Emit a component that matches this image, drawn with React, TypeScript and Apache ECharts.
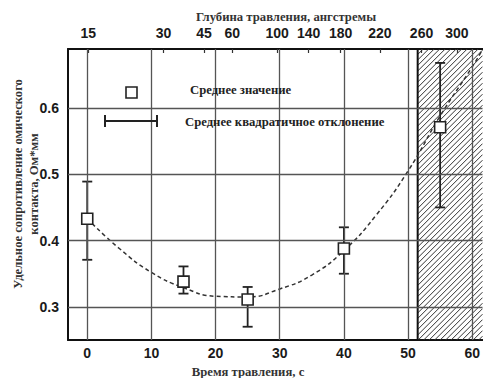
import React, { useEffect, useRef } from 'react';
import * as echarts from 'echarts';

const timeTicks = [0, 10, 20, 30, 40, 50, 60];
const valueTicks = [0.3, 0.4, 0.5, 0.6];
const depthLabels = ['15', '30', '45', '60', '100', '140', '180', '220', '260', '300'];
const depthPositions = [0.15, 11.9, 18.2, 22.6, 29.6, 34.5, 39.5, 45.6, 52.1, 57.6];

const etchTime = [0, 15, 25, 40, 55];
const meanResistance = [0.433, 0.338, 0.311, 0.388, 0.571];
const errLow = [0.371, 0.32, 0.27, 0.35, 0.45];
const errHigh = [0.489, 0.361, 0.33, 0.42, 0.668];

const fitTime = [0, 5, 10, 15, 20, 25, 30, 35, 40, 45, 50, 55, 60, 61.6];
const fitValue = [0.433, 0.388, 0.352, 0.329, 0.316, 0.315, 0.327, 0.348, 0.385, 0.438, 0.505, 0.588, 0.662, 0.688];

const hatchStart = 51.5;
const X_MIN = -3;
const X_MAX = 61.6;
const Y_MIN = 0.25;
const Y_MAX = 0.689;

const SERIF = "'Liberation Serif', 'DejaVu Serif', serif";
const SANS = "'Liberation Sans', Arial, sans-serif";

export default function App() {
  const ref = useRef<HTMLDivElement>(null);
  useEffect(() => {
    if (!ref.current) return;
    const chart = echarts.init(ref.current, null, { renderer: 'svg' });
    const nearestDepth = (v: number) => {
      let best = 0;
      for (let i = 1; i < depthPositions.length; i++) {
        if (Math.abs(depthPositions[i] - v) < Math.abs(depthPositions[best] - v)) best = i;
      }
      return depthLabels[best];
    };
    const labelStyle = { color: '#1a1a1a', fontFamily: SANS, fontWeight: 'bold' as const, fontSize: 14 };
    const option: any = {
      animation: false,
      backgroundColor: '#fff',
      grid: { left: 68, top: 49, right: 0, bottom: 38, containLabel: false },
      xAxis: [
        {
          type: 'value', position: 'bottom', min: X_MIN, max: X_MAX,
          axisLine: { show: true, onZero: false, lineStyle: { color: '#111', width: 2 } },
          axisTick: { show: false },
          splitLine: { show: false },
          axisLabel: { ...labelStyle, customValues: timeTicks, margin: 6, formatter: (v: number) => String(Math.round(v)) },
        },
        {
          type: 'value', position: 'top', min: X_MIN, max: X_MAX,
          axisLine: { show: true, onZero: false, lineStyle: { color: '#111', width: 2 } },
          axisTick: { show: true, inside: true, length: 4, customValues: depthPositions, lineStyle: { color: '#333', width: 1.2 } },
          splitLine: { show: false },
          axisLabel: { ...labelStyle, customValues: depthPositions, margin: 9, formatter: (v: number) => nearestDepth(v) },
        },
      ],
      yAxis: {
        type: 'value', min: Y_MIN, max: Y_MAX,
        axisLine: { show: true, onZero: false, lineStyle: { color: '#111', width: 2 } },
        axisTick: { show: false },
        splitLine: { show: false },
        axisLabel: { ...labelStyle, customValues: valueTicks, margin: 9, formatter: (v: number) => v.toFixed(1) },
      },
      series: [
        {
          type: 'custom', name: 'hatch', z: 1, silent: true,
          data: [[hatchStart, Y_MIN]],
          renderItem: (params: any, api: any) => {
            const cs = params.coordSys;
            const L = api.coord([api.value(0), Y_MIN])[0];
            const R = cs.x + cs.width;
            const T = cs.y;
            const B = cs.y + cs.height;
            const h = B - T;
            const children: any[] = [];
            const style = { stroke: '#333', lineWidth: 1 };
            for (let c = L - h; c < R; c += 5.5) {
              let x1 = c, y1 = B, x2 = c + h, y2 = T;
              if (x1 < L) { y1 = B - (L - x1); x1 = L; }
              if (x2 > R) { y2 = T + (x2 - R); x2 = R; }
              if (x2 <= x1) continue;
              children.push({ type: 'line', shape: { x1, y1, x2, y2 }, style });
            }
            children.push({ type: 'line', shape: { x1: L, y1: T, x2: L, y2: B }, style: { stroke: '#111', lineWidth: 2 } });
            return { type: 'group', children };
          },
        },
        {
          type: 'line', name: 'grid', z: 2, silent: true, data: [],
          markLine: {
            silent: true, symbol: ['none', 'none'], label: { show: false },
            lineStyle: { color: '#555', width: 1.3, type: 'solid' },
            data: [
              ...timeTicks.map((v) => ({ xAxis: v })),
              ...valueTicks.map((v) => ({ yAxis: v })),
            ],
          },
        },
        {
          type: 'line', name: 'fit', z: 3, smooth: true, symbol: 'none',
          data: fitTime.map((t, i) => [t, fitValue[i]]),
          lineStyle: { color: '#333', width: 1.5, type: [4, 3] },
        },
        {
          type: 'custom', name: 'errors', z: 4,
          data: etchTime.map((t, i) => [t, errLow[i], errHigh[i]]),
          encode: { x: 0, y: [1, 2] },
          renderItem: (params: any, api: any) => {
            const lo = api.coord([api.value(0), api.value(1)]);
            const hi = api.coord([api.value(0), api.value(2)]);
            const st = { stroke: '#222', lineWidth: 1.8 };
            const w = 5;
            return {
              type: 'group',
              children: [
                { type: 'line', shape: { x1: lo[0], y1: lo[1], x2: hi[0], y2: hi[1] }, style: st },
                { type: 'line', shape: { x1: lo[0] - w, y1: lo[1], x2: lo[0] + w, y2: lo[1] }, style: st },
                { type: 'line', shape: { x1: hi[0] - w, y1: hi[1], x2: hi[0] + w, y2: hi[1] }, style: st },
              ],
            };
          },
        },
        {
          type: 'scatter', name: 'mean', z: 5, symbol: 'rect', symbolSize: 11,
          data: etchTime.map((t, i) => [t, meanResistance[i]]),
          itemStyle: { color: '#fff', borderColor: '#222', borderWidth: 1.6, opacity: 1 },
        },
      ],
      graphic: [
        {
          type: 'text', x: 286, y: 17, z: 10,
          style: { text: 'Глубина травления, ангстремы', align: 'center', verticalAlign: 'middle', font: `bold 12.7px ${SERIF}`, fill: '#333' },
        },
        {
          type: 'text', x: 248, y: 372, z: 10,
          style: { text: 'Время травления, с', align: 'center', verticalAlign: 'middle', font: `bold 12.7px ${SERIF}`, fill: '#333' },
        },
        {
          type: 'text', x: 26, y: 184, rotation: Math.PI / 2, z: 10,
          style: {
            text: 'Удельное сопротивление омического\nконтакта, Ом*мм',
            align: 'center', verticalAlign: 'middle', font: `bold 12.6px ${SERIF}`, lineHeight: 16, fill: '#333',
          },
        },
        {
          type: 'rect', x: 126, y: 87, z: 10,
          shape: { x: 0, y: 0, width: 11, height: 11 },
          style: { fill: '#fff', stroke: '#222', lineWidth: 1.6 },
        },
        {
          type: 'text', x: 190, y: 90, z: 10,
          style: { text: 'Среднее значение', align: 'left', verticalAlign: 'middle', font: `bold 12.7px ${SERIF}`, fill: '#222' },
        },
        { type: 'line', z: 10, shape: { x1: 105, y1: 121, x2: 157, y2: 121 }, style: { stroke: '#222', lineWidth: 2 } },
        { type: 'line', z: 10, shape: { x1: 105, y1: 115, x2: 105, y2: 127 }, style: { stroke: '#222', lineWidth: 2 } },
        { type: 'line', z: 10, shape: { x1: 157, y1: 115, x2: 157, y2: 127 }, style: { stroke: '#222', lineWidth: 2 } },
        {
          type: 'text', x: 185, y: 122, z: 10,
          style: { text: 'Среднее квадратичное отклонение', align: 'left', verticalAlign: 'middle', font: `bold 12.7px ${SERIF}`, fill: '#222' },
        },
      ],
    };
    chart.setOption(option);
    return () => chart.dispose();
  }, []);
  return <div ref={ref} style={{ position: 'fixed', left: 0, top: 0, width: 483, height: 378 }} />;
}
